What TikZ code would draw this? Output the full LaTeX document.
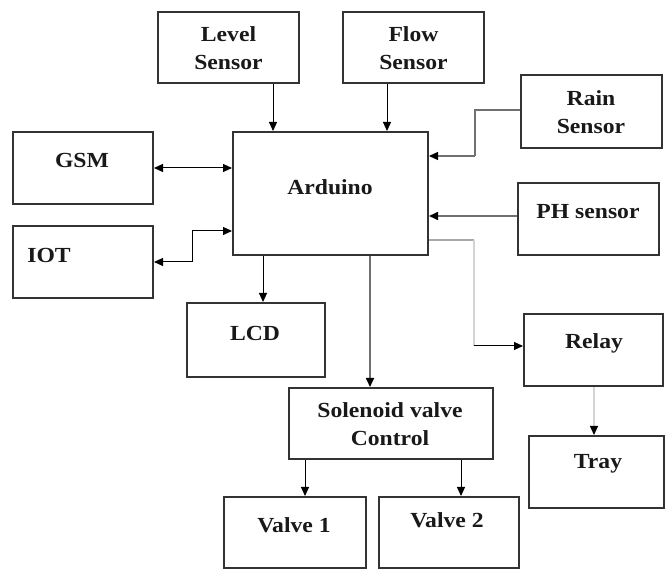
\documentclass[tikz,border=0pt]{standalone}
\usepackage{fontspec}
\setmainfont{Liberation Serif}[FakeStretch=1.1]
\usetikzlibrary{arrows.meta}
\definecolor{boxc}{HTML}{333333}
\definecolor{midg}{HTML}{707070}
\definecolor{lightg}{HTML}{A8A8A8}
\definecolor{paleg}{HTML}{D4D4D4}
\begin{document}
\begin{tikzpicture}[x=1pt,y=-1pt,
  blk/.style={draw=boxc,line width=2pt,rectangle,inner sep=0pt,minimum width=#1},
  blk/.default=141pt,
  txt/.style={font=\fontsize{21.5}{28}\selectfont\bfseries,align=center,inner sep=0pt,text=black!90},
  arr/.style={draw=black,line width=1pt,-{Triangle[length=9pt,width=8pt]}},
  darr/.style={draw=black,line width=1pt,{Triangle[length=9pt,width=8pt]}-{Triangle[length=9pt,width=8pt]}},
  gtip/.style={-{Triangle[length=9pt,width=8pt,color=black]}}]
\useasboundingbox (0,0) rectangle (665,569);
% boxes
\node[blk=141pt,minimum height=71pt] (lvl) at (228.5,47.5) {};
\node[blk=141pt,minimum height=71pt] (flow) at (413.5,47.5) {};
\node[blk=141pt,minimum height=73pt] (rain) at (591.5,111.5) {};
\node[blk=140pt,minimum height=72pt] (gsm) at (83,168) {};
\node[blk=195pt,minimum height=123pt] (ard) at (330.5,193.5) {};
\node[blk=141pt,minimum height=72pt] (ph) at (588.5,219) {};
\node[blk=140pt,minimum height=72pt] (iot) at (83,262) {};
\node[blk=138pt,minimum height=74pt] (lcd) at (256,340) {};
\node[blk=139pt,minimum height=72pt] (relay) at (593.5,350) {};
\node[blk=204pt,minimum height=71pt] (sol) at (391,423.5) {};
\node[blk=135pt,minimum height=72pt] (tray) at (596.5,472) {};
\node[blk=142pt,minimum height=71pt] (v1) at (295,532.5) {};
\node[blk=140pt,minimum height=71pt] (v2) at (449,532.5) {};
% texts
\node[txt] (lvlT) at (228.5,48) {Level\\Sensor};
\node[txt] (flowT) at (413.5,48) {Flow\\Sensor};
\node[txt] (rainT) at (591,112.5) {Rain\\Sensor};
\node[txt] (gsmT) at (82,160) {GSM};
\node[txt] (ardT) at (330,187) {Arduino};
\node[txt] (phT) at (588,212) {PH sensor};
\node[txt] (iotT) at (49,255) {IOT};
\node[txt] (lcdT) at (255,333) {LCD};
\node[txt] (relayT) at (594,343) {Relay};
\node[txt] (solT) at (390,424) {Solenoid valve\\Control};
\node[txt] (trayT) at (598,464) {Tray};
\node[txt] (v1T) at (294,525) {Valve 1};
\node[txt] (v2T) at (447,520) {Valve 2};
% helper coordinates
\coordinate (cl) at (273,0);
\coordinate (cf) at (387,0);
\coordinate (rk) at (475,156);
\coordinate (pk) at (0,216);
\coordinate (ik) at (192,231);
\coordinate (clcd) at (263,0);
\coordinate (csol) at (370,0);
\coordinate (rk2) at (474,240);
\coordinate (rk3) at (474,346);
\coordinate (ctr) at (594,0);
\coordinate (cv1) at (305,0);
\coordinate (cv2) at (461,0);
% connectors
\draw[arr] (lvl.south -| cl) -- (ard.north -| cl);
\draw[arr] (flow.south -| cf) -- (ard.north -| cf);
\draw[draw=midg,line width=1.3pt] (rain.west |- 0,110) -| (rk);
\draw[draw=midg,line width=1.3pt,gtip] (rk) -- (ard.east |- rk);
\draw[draw=midg,line width=1.6pt,gtip] (ph.west |- pk) -- (ard.east |- pk);
\draw[darr] (gsm.east) -- (ard.west |- gsm.east);
\draw[darr] (iot.east) -| (ik) -- (ard.west |- ik);
\draw[arr] (ard.south -| clcd) -- (lcd.north -| clcd);
\draw[draw=midg,line width=1.6pt,gtip] (ard.south -| csol) -- (sol.north -| csol);
\draw[draw=lightg,line width=1.3pt] (ard.east |- rk2) -- (rk2);
\draw[draw=paleg,line width=1.3pt] (rk2) -- (rk3);
\draw[arr] (rk3) -- (relay.west |- rk3);
\draw[draw=paleg,line width=1.3pt,gtip] (relay.south -| ctr) -- (tray.north -| ctr);
\draw[arr] (sol.south -| cv1) -- (v1.north -| cv1);
\draw[arr] (sol.south -| cv2) -- (v2.north -| cv2);
\end{tikzpicture}
\end{document}
